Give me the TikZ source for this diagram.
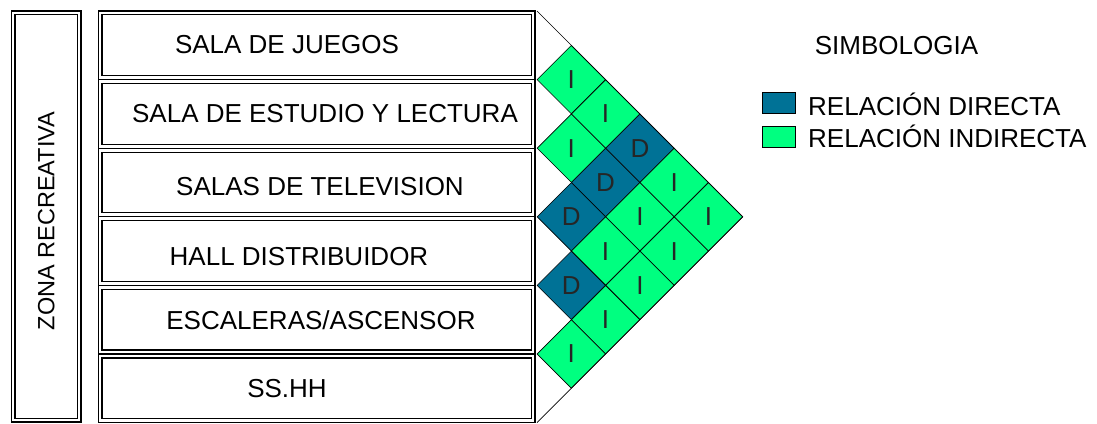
\documentclass[tikz,border=0pt]{standalone}
\usepackage{fontspec}
\setmainfont{Liberation Sans}
\usetikzlibrary{shapes.geometric,positioning}
\definecolor{relD}{RGB}{0,114,150}
\definecolor{relI}{RGB}{0,255,128}
\tikzset{
  framebox/.style={draw,double,double distance=2.8pt,line width=1.1pt,inner sep=0pt},
  rowbox/.style={framebox,minimum width=433pt,minimum height=64.6pt},
  roomtext/.style={font=\fontsize{26}{30}\selectfont,inner sep=0pt,text height=18.6pt,text depth=0pt},
  cell/.style={diamond,draw,line width=0.6pt,minimum width=68.6pt,minimum height=68.6pt,
    inner sep=0pt,aspect=1,text=black!85,font=\fontsize{26}{30}\selectfont},
  keybox/.style={draw,line width=0.9pt,minimum width=33pt,minimum height=21pt,inner sep=0pt}
}
\begin{document}
\begin{tikzpicture}[x=1pt,y=1pt]
\useasboundingbox (0,0) rectangle (1097,423);
% zona
\node[framebox,minimum width=66pt,minimum height=407pt] (zona) at (46,206.5) {};
\node[roomtext,font=\fontsize{23.5}{28}\selectfont,rotate=90] (zonatxt) at (45,202) {ZONA RECREATIVA};
% ambientes
\foreach \k/\dx/\dy/\txt in {1/-29.5/1.3/{SALA DE JUEGOS},2/8.5/0.9/{SALA DE ESTUDIO Y LECTURA},
  3/3.5/-3.5/{SALAS DE TELEVISION},4/-17.5/-4.9/{HALL DISTRIBUIDOR},
  5/4.5/-0.3/{ESCALERAS/ASCENSOR},6/-29.5/0.3/{SS.HH}} {
  \node[rowbox] (r\k) at (316.5,{412-68.6*(\k-0.5)}) {};
  \node[roomtext] (t\k) at ([xshift=\dx pt,yshift=\dy pt]r\k.center) {\txt};
}
% matriz de relaciones
\foreach \i/\j/\r in {1/2/I,1/3/I,1/4/D,1/5/I,1/6/I,2/3/I,2/4/D,2/5/I,2/6/I,
  3/4/D,3/5/I,3/6/I,4/5/D,4/6/I,5/6/I} {
  \node[cell,fill=rel\r] (c\i\j) at ({537+34.3*(\j-\i)},{412-34.3*(\i+\j-1)}) {\r};
}
\coordinate (mtop) at (537,412);
\coordinate (mright) at (742.8,206.2);
\coordinate (mbot) at (537,0.4);
\draw[line width=0.6pt] (mtop) -- (mright) -- (mbot);
% simbologia
\node[roomtext,anchor=base] (simb) at (896.5,368) {SIMBOLOGIA};
\node[keybox,fill=relD] (kD) at (778.5,320.5) {};
\node[keybox,fill=relI] (kI) at (778.5,286.5) {};
\node[roomtext,anchor=base west] (kDtxt) at (808,307) {RELACIÓN DIRECTA};
\node[roomtext,anchor=base west] (kItxt) at (808,275) {RELACIÓN INDIRECTA};
\end{tikzpicture}
\end{document}
